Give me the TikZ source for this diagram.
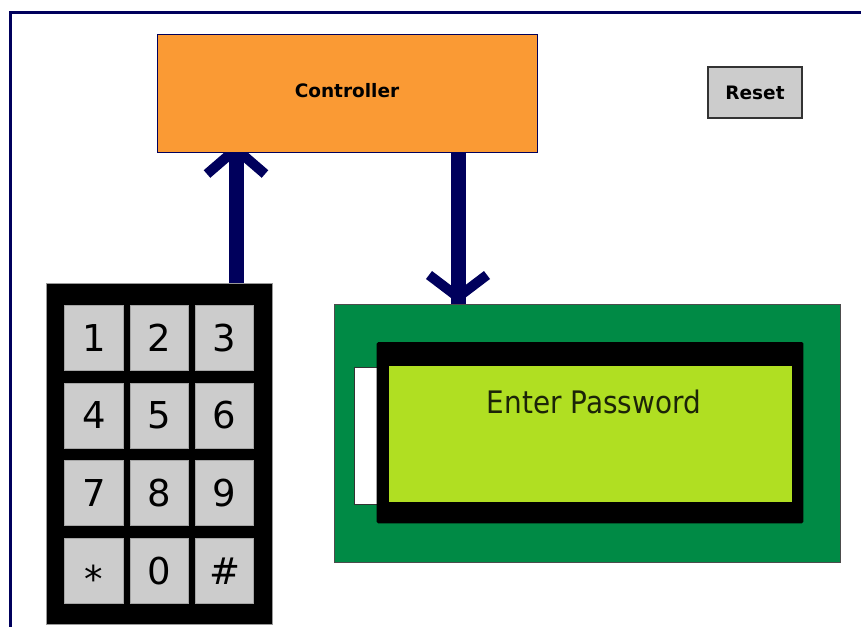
\documentclass[tikz,border=0pt]{standalone}
\usepackage{fontspec}
\setmainfont{DejaVu Sans}
\newfontfamily\lcdfont{DejaVu Sans}[FakeStretch=0.9]
\usetikzlibrary{calc,backgrounds}

\definecolor{navy}{RGB}{0,0,92}
\definecolor{ctrlorange}{RGB}{250,154,52}
\definecolor{keygray}{RGB}{204,204,204}
\definecolor{pcbgreen}{RGB}{0,138,69}
\definecolor{lcdlime}{RGB}{176,223,34}
\definecolor{lcdtext}{RGB}{28,36,8}

\tikzset{
  box/.style={rectangle, inner sep=0pt, outer sep=0pt},
  keycap/.style={box, fill=keygray, draw=black!35, line width=0.6pt,
    minimum width=58.5pt, minimum height=65pt,
    font=\fontsize{37}{37}\selectfont, text height=27pt, text depth=0pt},
  link/.style={navy, line width=15pt},
  barb/.style={navy, line width=10pt, line join=miter},
}

\begin{document}
\begin{tikzpicture}[x=1pt,y=-1pt]
\useasboundingbox (0,0) rectangle (861,626);

% controller block
\node[box, fill=ctrlorange, draw=navy, line width=1pt,
      minimum width=380pt, minimum height=117pt,
      font=\bfseries\fontsize{18.5}{18.5}\selectfont,
      text height=14pt, text depth=7pt] (ctrl) at (347,93.5) {Controller};

% reset button
\node[box, fill=keygray, draw=black!80, line width=1.2pt,
      minimum width=94pt, minimum height=51pt,
      font=\bfseries\fontsize{18.5}{18.5}\selectfont] (reset) at (755,92.5) {Reset};

% keypad body and keys
\node[box, fill=black, draw=black!40, line width=0.5pt,
      minimum width=226pt, minimum height=341pt] (keypad) at (159,453.5) {};
\foreach \lab/\c/\r in {1/0/0, 2/1/0, 3/2/0,
                        4/0/1, 5/1/1, 6/2/1,
                        7/0/2, 8/1/2, 9/2/2,
                        0/1/3}
  \node[keycap] (k\c\r) at ({94+65.25*\c},{337.5+77.8*\r}) {\lab};
\node[keycap] (k03) at (94,{337.5+77.8*3}) {\raisebox{-8pt}{*}};
\node[keycap] (k23) at ({94+65.25*2},{337.5+77.8*3}) {\#};

% display board
\node[box, fill=pcbgreen, draw=black!70, line width=1pt,
      minimum width=506pt, minimum height=258pt] (lcd) at (587,433) {};
\node[box, fill=white, draw=black!80, line width=0.8pt,
      minimum width=26pt, minimum height=137pt] (tab) at (367.3,435.5) {};
\node[box, fill=black, rounded corners=1.5pt,
      minimum width=426.6pt, minimum height=181.3pt] (bezel) at (590,432.7) {};
\node[box, fill=lcdlime,
      minimum width=403pt, minimum height=135.7pt] (screen) at (590.8,433.8) {};
\node[anchor=base, text=lcdtext, font=\lcdfont\fontsize{31}{31}\selectfont]
      (msg) at ($(screen.north)+(3,47.3)$) {Enter Password};

\coordinate (upx) at (236,0);
\coordinate (dnx) at (458,0);

\begin{scope}[on background layer]
  % outer frame
  \draw[navy, line width=3pt] (10,13) rectangle (900,700);
  % keypad -> controller
  \draw[link] (keypad.north -| upx) -- (ctrl.south -| upx);
  \draw[barb] ($(ctrl.south -| upx)+(-29,22)$) -- ($(ctrl.south -| upx)+(0,-3)$)
              -- ($(ctrl.south -| upx)+(29,22)$);
  % controller -> display
  \draw[link] (ctrl.south -| dnx) -- (lcd.north -| dnx);
  \draw[barb] ($(lcd.north -| dnx)+(-29,-29)$) -- ($(lcd.north -| dnx)+(0,-7)$)
              -- ($(lcd.north -| dnx)+(29,-29)$);
\end{scope}
\end{tikzpicture}
\end{document}
